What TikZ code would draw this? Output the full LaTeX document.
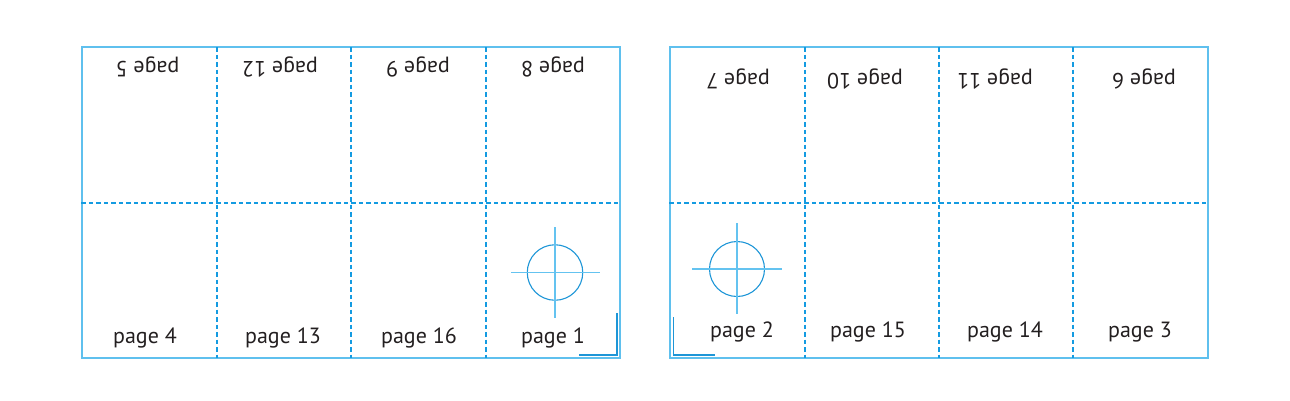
\documentclass[tikz,border=0pt]{standalone}
\usepackage{fontspec}
\setmainfont{PT Sans}
\begin{document}
\begin{tikzpicture}[x=1pt,y=-1pt,
  sheet/.style={draw=sheetblue, line width=1.3pt, inner sep=0pt, minimum width=538pt, minimum height=311pt},
  fold/.style={draw=dashblue, line width=1.3pt, dash pattern=on 4.5pt off 3pt},
  cornermark/.style={draw=markblue, line width=1.1pt},
  regline/.style={draw=regblue, line width=1.4pt},
  lbl/.style={font=\fontsize{22}{24}\selectfont, text=txt, inner sep=0pt, anchor=base},
  ulbl/.style={lbl, rotate=180}]
\definecolor{sheetblue}{RGB}{95,192,238}
\definecolor{dashblue}{RGB}{20,155,225}
\definecolor{markblue}{RGB}{30,150,215}
\definecolor{regblue}{RGB}{100,195,240}
\definecolor{txt}{RGB}{35,31,32}
\useasboundingbox (0,0) rectangle (1290,400);
% sheets
\node[sheet] (L) at (351,202.5) {};
\node[sheet] (R) at (939,202.5) {};
% fold lines
\foreach \x in {217,351,486} \draw[fold] (\x,47) -- (\x,358);
\foreach \x in {805,939,1073} \draw[fold] (\x,47) -- (\x,358);
\draw[fold] (L.west |- 0,203) -- (L.east |- 0,203);
\draw[fold] (R.west |- 0,203) -- (R.east |- 0,203);
% corner marks
\coordinate (lc1) at (617,313);
\coordinate (lc2) at (617,355);
\coordinate (lc3) at (579,355);
\draw[cornermark] (lc1) -- (lc2) -- (lc3);
\coordinate (rc1) at (673.5,317);
\coordinate (rc2) at (673.5,355);
\coordinate (rc3) at (715,355);
\draw[cornermark] (rc1) -- (rc2) -- (rc3);
% registration marks
\node[circle, draw=markblue, line width=1.1pt, minimum size=55.5pt, inner sep=0pt] (regL) at (555,272.5) {};
\draw[regline] (511,272.5) -- (600,272.5);
\draw[regline] (555,227) -- (555,318);
\node[circle, draw=markblue, line width=1.1pt, minimum size=55pt, inner sep=0pt] (regR) at (737,269) {};
\draw[regline] (692,269) -- (782,269);
\draw[regline] (737,223) -- (737,314);
% top labels (upside down)
\node[ulbl] (p5) at (147.5,61) {page 5};
\node[ulbl] (p12) at (280,61) {page 12};
\node[ulbl] (p9) at (418,61) {page 9};
\node[ulbl] (p8) at (553,61) {page 8};
\node[ulbl] (p7) at (738,73) {page 7};
\node[ulbl] (p10) at (865,73) {page 10};
\node[ulbl] (p11) at (995,73) {page 11};
\node[ulbl] (p6) at (1144,73) {page 6};
% bottom labels
\node[lbl] (p4) at (145,343) {page 4};
\node[lbl] (p13) at (283,343) {page 13};
\node[lbl] (p16) at (419,343) {page 16};
\node[lbl] (p1) at (553,343) {page 1};
\node[lbl] (p2) at (742,337) {page 2};
\node[lbl] (p15) at (868,337) {page 15};
\node[lbl] (p14) at (1005,337) {page 14};
\node[lbl] (p3) at (1140,337) {page 3};
\end{tikzpicture}
\end{document}
